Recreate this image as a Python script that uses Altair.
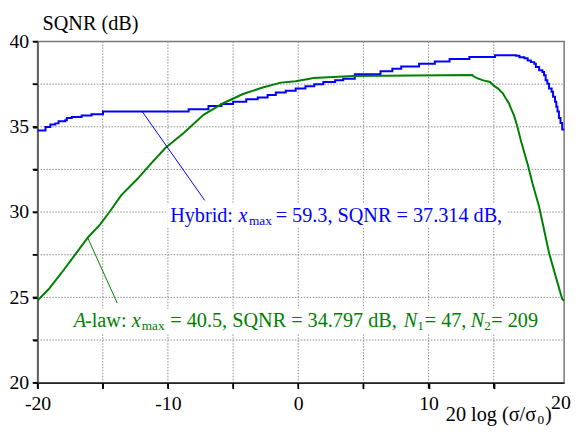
import altair as alt
import pandas as pd

# ---------------- data ----------------
blue_x = [-20.0, -19.39, -19.02, -18.64, -18.39, -17.88, -17.76, -17.38, -16.62, -15.86,
          -14.98, -8.41, -6.89, -5.89, -5.0, -3.99, -3.11, -2.35, -1.72, -0.96,
          -0.20, 0.55, 1.23, 1.92, 2.83, 3.45, 4.34, 6.31, 7.22, 7.90,
          9.27, 10.48, 11.61, 13.13, 15.10, 16.71, 16.97, 17.35, 17.60, 17.85,
          18.11, 18.23, 18.48, 18.73, 18.86, 18.98, 19.11, 19.24, 19.44, 19.55,
          19.70, 19.80, 19.89, 20.0, 20.12, 20.25, 20.4]
blue_y = [34.78, 34.99, 35.13, 35.20, 35.32, 35.38, 35.51, 35.57, 35.66, 35.74,
          35.90, 36.03, 36.22, 36.34, 36.47, 36.61, 36.72, 36.86, 37.01, 37.11,
          37.24, 37.38, 37.50, 37.63, 37.73, 37.82, 38.08, 38.25, 38.40, 38.54,
          38.69, 38.83, 38.98, 39.09, 39.19, 39.17, 39.08, 39.02, 38.88, 38.79,
          38.69, 38.50, 38.31, 38.21, 38.02, 37.73, 37.53, 37.24, 37.05, 36.76,
          36.47, 36.18, 35.90, 35.51, 35.22, 34.84, 34.84]

green_x = [-20.0, -19.14, -18.14, -17.12, -16.11, -15.23, -14.47, -13.59, -12.33, -11.44,
           -10.18, -8.79, -7.27, -5.76, -4.24, -2.73, -1.34, -0.20, 1.18, 4.21,
           13.36, 13.44, 13.81, 14.19, 14.72, 14.95, 15.33, 15.71, 15.93, 16.16,
           16.31, 16.54, 16.69, 16.84, 17.09, 17.60, 17.98, 18.48, 18.86, 19.24,
           19.74, 20.25, 20.4]
green_y = [24.82, 25.49, 26.46, 27.51, 28.54, 29.25, 30.02, 30.98, 31.95, 32.72,
           33.77, 34.64, 35.70, 36.38, 36.92, 37.30, 37.59, 37.67, 37.86, 37.98,
           38.04, 37.96, 37.82, 37.72, 37.63, 37.44, 37.24, 36.95, 36.66, 36.38,
           36.09, 35.70, 35.32, 34.93, 34.16, 32.81, 31.66, 30.31, 28.96, 27.61,
           26.26, 24.91, 24.80]

x_ticks = [-20, -15, -10, -5, 0, 5, 10, 15]
x_grid = [-15, -10, -5, 0, 5, 10, 15]
x_last_label = [20]
y_ticks = [20, 22.5, 25, 27.5, 30, 32.5, 35, 37.5, 40]
y_grid = [22.5, 25, 27.5, 30, 32.5, 35, 37.5]

# annotation leader lines (start on curve -> end at label)
lead_x = [-11.95, -16.17]
lead_y = [35.87, 28.52]
lead_x2 = [-7.17, -13.89]
lead_y2 = [30.68, 24.67]

# annotation anchors and white label backgrounds
hyb_anchor = (-9.83, 29.41)
alaw_anchor = (-17.23, 23.29)
box_x = [-10.05, -17.40]
box_x2 = [16.10, 18.73]
box_y = [30.50, 24.33]
box_y2 = [29.12, 22.89]

hyb_text = ["Hybrid:", "x", "max", "= 59.3, SQNR = 37.314 dB,"]
alaw_text = ["A", "-law:", "x", "max", "= 40.5, SQNR = 34.797 dB,", "N", "1", "= 47,", "N", "2", "= 209"]
xtitle_text = ["20 log (\u03c3/\u03c3", "0", ")"]
ytitle_text = "SQNR (dB)"

# ---------------- styling ----------------
FONT = "Liberation Serif"
BLUE = "#0000ff"
GREEN = "#008000"
GRID = "#8c8c8c"
FS = 20.5
SUB = 13.5
W, H = 534, 346

hyb_dx = [0, 69.3, 80, 107]
hyb_style = [("normal", FS, 0), ("italic", FS, 0), ("normal", SUB, 3), ("normal", FS, 0)]
alaw_dx = [0, 11.5, 59, 69, 98, 334.7, 348.4, 356, 402.7, 416.4, 423.5]
alaw_style = [("italic", FS, 0), ("normal", FS, 0), ("italic", FS, 0), ("normal", SUB, 3),
              ("normal", FS, 0), ("italic", FS, 0), ("normal", SUB, 3), ("normal", FS, 0),
              ("italic", FS, 0), ("normal", SUB, 3), ("normal", FS, 0)]
xtitle_dx = [0, 93, 100.5]
xtitle_style = [("normal", FS, 0), ("normal", SUB, 3), ("normal", FS, 0)]

xscale = alt.Scale(domain=[-20, 20.4], nice=False, zero=False)
yscale = alt.Scale(domain=[20, 40], nice=False, zero=False)

xaxis = alt.Axis(values=x_ticks,
                 labelExpr="datum.value % 10 == 0 ? toString(datum.value) : ''",
                 title=None, grid=False,
                 ticks=True, tickSize=6, tickColor="black", tickWidth=1.5,
                 labelPadding=5, labelFont=FONT, labelFontSize=20, labelColor="black",
                 labelFlush=False, labelOverlap=False,
                 domainColor="#222222", domainWidth=1.5)
yaxis = alt.Axis(values=y_ticks,
                 labelExpr="datum.value % 5 == 0 ? toString(datum.value) : ''",
                 title=None, grid=False,
                 ticks=True, tickSize=5, tickColor="black", tickWidth=1.5,
                 labelPadding=4, labelFont=FONT, labelFontSize=20, labelColor="black",
                 labelFlush=False, labelOverlap=False,
                 domainColor="#555555", domainWidth=1.5)

X = alt.X("x:Q", scale=xscale, axis=xaxis)
Y = alt.Y("y:Q", scale=yscale, axis=yaxis)

df_blue = pd.DataFrame({"x": blue_x, "y": blue_y})
df_green = pd.DataFrame({"x": green_x, "y": green_y})
df_lead = pd.DataFrame({"x": lead_x, "y": lead_y, "x2": lead_x2, "y2": lead_y2,
                        "c": [BLUE, GREEN]})
df_box = pd.DataFrame({"x": box_x, "x2": box_x2, "y": box_y, "y2": box_y2})

# dotted grid and tick marks
vgrid = alt.Chart(pd.DataFrame({"x": x_grid})).mark_rule(
    color=GRID, strokeWidth=1, strokeDash=[1.5, 1.5]).encode(
    x=X, y=alt.value(0), y2=alt.value(H))
hgrid = alt.Chart(pd.DataFrame({"y": y_grid})).mark_rule(
    color=GRID, strokeWidth=1, strokeDash=[1.5, 1.5]).encode(
    y=Y, x=alt.value(0), x2=alt.value(W))
xtickmarks = alt.Chart(pd.DataFrame({"x": x_ticks})).mark_rule(
    color="black", strokeWidth=1.5).encode(x=X, y=alt.value(H), y2=alt.value(H + 6))
ytickmarks = alt.Chart(pd.DataFrame({"y": y_ticks})).mark_rule(
    color="black", strokeWidth=1.5).encode(y=Y, x=alt.value(-5), x2=alt.value(0))

boxes = alt.Chart(df_box).mark_rect(color="white").encode(
    x=X, x2="x2:Q", y=Y, y2="y2:Q")
blue_line = alt.Chart(df_blue).mark_line(
    color=BLUE, strokeWidth=2, interpolate="step-after").encode(x=X, y=Y)
green_line = alt.Chart(df_green).mark_line(
    color=GREEN, strokeWidth=2).encode(x=X, y=Y)
leads = alt.Chart(df_lead).mark_rule(strokeWidth=1).encode(
    x=X, y=Y, x2="x2:Q", y2="y2:Q", color=alt.Color("c:N", scale=None))

# the "20" label at the right end of the x axis
last_lab = alt.Chart(pd.DataFrame({"x": x_last_label,
                                   "t": [str(v) for v in x_last_label]})).mark_text(
    align="center", baseline="top", dx=2, font=FONT, fontSize=20, color="black"
).encode(x=X, y=alt.value(H + 11), text="t:N")


def data_pieces(anchor, texts, dxs, styles, color):
    out = []
    for t, dx, (st, sz, dy) in zip(texts, dxs, styles):
        df = pd.DataFrame({"x": [anchor[0]], "y": [anchor[1]], "t": [t]})
        out.append(alt.Chart(df).mark_text(
            align="left", baseline="alphabetic", dx=dx, dy=dy, font=FONT,
            fontSize=sz, fontStyle=st, color=color).encode(x=X, y=Y, text="t:N"))
    return out


def pixel_pieces(px, py, texts, dxs, styles, color):
    out = []
    for t, dx, (st, sz, dy) in zip(texts, dxs, styles):
        df = pd.DataFrame({"t": [t]})
        out.append(alt.Chart(df).mark_text(
            align="left", baseline="alphabetic", dx=dx, dy=dy, font=FONT,
            fontSize=sz, fontStyle=st, color=color).encode(
            x=alt.value(px), y=alt.value(py), text="t:N"))
    return out


layers = [vgrid, hgrid, xtickmarks, ytickmarks, boxes, blue_line, green_line, leads, last_lab]
layers += data_pieces(hyb_anchor, hyb_text, hyb_dx, hyb_style, BLUE)
layers += data_pieces(alaw_anchor, alaw_text, alaw_dx, alaw_style, GREEN)
layers += pixel_pieces(414, 385, xtitle_text, xtitle_dx, xtitle_style, "black")
layers += pixel_pieces(5, -12, [ytitle_text], [0], [("normal", FS, 0)], "black")

chart = alt.layer(*layers).properties(
    width=W, height=H,
    padding={"left": 30, "top": 31, "right": 10, "bottom": 43},
    autosize=alt.AutoSizeParams(type="none"),
).configure_view(stroke="#777777", strokeWidth=1.5)

chart.save("out.html", embed_options={"renderer": "svg", "actions": False})
